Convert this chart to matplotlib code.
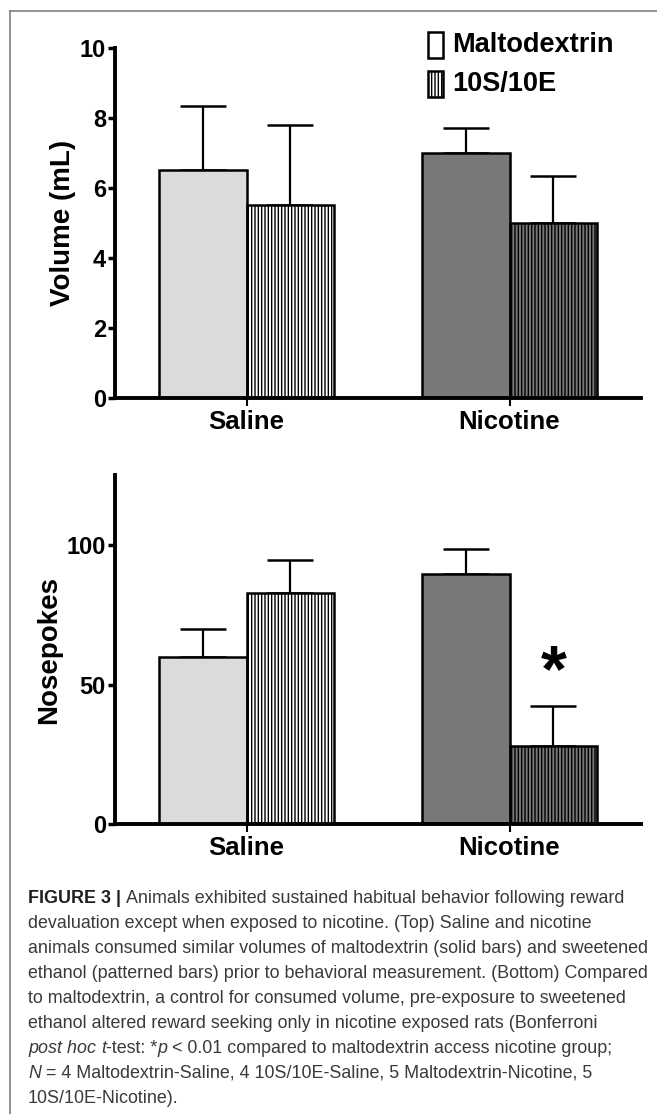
import matplotlib
matplotlib.use("Agg")
import matplotlib.pyplot as plt
from matplotlib import font_manager
from matplotlib.patches import Rectangle
from matplotlib.lines import Line2D

# data
groups = ["Saline", "Nicotine"]
series = ["Maltodextrin", "10S/10E"]
volume_malto = [6.5, 7.0]
volume_malto_err = [1.83, 0.70]
volume_10s = [5.5, 5.0]
volume_10s_err = [2.30, 1.34]
pokes_malto = [60.0, 89.6]
pokes_malto_err = [9.8, 9.0]
pokes_10s = [82.7, 28.1]
pokes_10s_err = [11.9, 14.2]
vol_ticks = [0, 2, 4, 6, 8, 10]
poke_ticks = [0, 50, 100]

W, H = 657, 1114


def has_font(name):
    try:
        font_manager.findfont(name, fallback_to_default=False)
        return True
    except Exception:
        return False


narrow = "Liberation Sans Narrow" if has_font("Liberation Sans Narrow") else "Liberation Sans"
plt.rcParams["font.family"] = ["Liberation Sans", "DejaVu Sans"]
plt.rcParams["hatch.color"] = "black"
plt.rcParams["hatch.linewidth"] = 1.0

fig = plt.figure(figsize=(W / 100, H / 100), dpi=100)


def fx(x):
    return x / W


def fy(y):
    return 1 - y / H


light = "#d9dbdd"
dark = "#76787a"
bw = 1 / 3


def panel(top_px, bot_px, malto, malto_err, s10, s10_err, ylim, ticks, ylabel):
    ax = fig.add_axes([fx(115), fy(bot_px), fx(641) - fx(115), fy(top_px) - fy(bot_px)])
    xs = range(len(groups))
    ekw = dict(elinewidth=1.6, capthick=1.8, ecolor="black", zorder=1)
    ax.bar([x - bw / 2 for x in xs], malto, bw, color=[light, dark], edgecolor="black",
           linewidth=1.8, yerr=[[0] * len(malto), malto_err], capsize=16.5, error_kw=ekw, zorder=2)
    ax.bar([x + bw / 2 for x in xs], s10, bw, color=["white", dark], edgecolor="black",
           linewidth=1.8, hatch="|||||", yerr=[[0] * len(s10), s10_err], capsize=16.5,
           error_kw=ekw, zorder=2)
    ax.set_xlim(-0.5, 1.5)
    ax.set_ylim(*ylim)
    ax.set_yticks(ticks)
    ax.set_xticks(list(xs))
    ax.set_xticklabels(groups, fontsize=18.5, fontweight="bold")
    ax.set_yticklabels([str(t) for t in ticks], fontsize=17, fontweight="bold")
    ax.tick_params(axis="y", length=5, width=2.5, pad=1.5)
    ax.tick_params(axis="x", length=6, width=1.5, pad=2.5)
    ax.set_ylabel(ylabel, fontsize=20, fontweight="bold", labelpad=3)
    for s in ["top", "right"]:
        ax.spines[s].set_visible(False)
    for s in ["left", "bottom"]:
        ax.spines[s].set_linewidth(2.8)
    ax.set_facecolor("none")
    return ax


ax1 = panel(48, 397.7, volume_malto, volume_malto_err, volume_10s, volume_10s_err,
            (0, 10), vol_ticks, "Volume (mL)")
ax2 = panel(475, 824.3, pokes_malto, pokes_malto_err, pokes_10s, pokes_10s_err,
            (0, 125), poke_ticks, "Nosepokes")
ax2.text(1 + bw / 2, 47.5, "*", fontsize=48, fontweight="bold", ha="center", va="baseline")

# legend drawn by hand at top right
for i, (name, face, hatch) in enumerate(zip(series, ["white", "white"], [None, "|||||"])):
    y0 = 32 + i * 39
    fig.add_artist(Rectangle((fx(428), fy(y0 + 26)), fx(15), 26 / H, facecolor=face,
                             edgecolor="black", linewidth=1.8, hatch=hatch,
                             transform=fig.transFigure))
    fig.text(fx(452), fy(y0 + 13), name, fontsize=19.5, fontweight="bold",
             ha="left", va="center")

# frame lines
fig.add_artist(Line2D([fx(10), 1], [fy(11), fy(11)], color="#808080", lw=1.2,
                      transform=fig.transFigure))
fig.add_artist(Line2D([fx(10), fx(10)], [fy(11), 0], color="#808080", lw=1.2,
                      transform=fig.transFigure))

# caption
cap_color = "#3a3a3a"
caption = [
    [("FIGURE 3 | ", "bold"), ("Animals exhibited sustained habitual behavior following reward", "")],
    [("devaluation except when exposed to nicotine. (Top) Saline and nicotine", "")],
    [("animals consumed similar volumes of maltodextrin (solid bars) and sweetened", "")],
    [("ethanol (patterned bars) prior to behavioral measurement. (Bottom) Compared", "")],
    [("to maltodextrin, a control for consumed volume, pre-exposure to sweetened", "")],
    [("ethanol altered reward seeking only in nicotine exposed rats (Bonferroni", "")],
    [("post hoc", "it"), (" ", ""), ("t", "it"), ("-test: *", ""), ("p", "it"),
     (" < 0.01 compared to maltodextrin access nicotine group;", "")],
    [("N", "it"), (" = 4 Maltodextrin-Saline, 4 10S/10E-Saline, 5 Maltodextrin-Nicotine, 5", "")],
    [("10S/10E-Nicotine).", "")],
]

renderer = fig.canvas.get_renderer()
# pick a size so the widest line spans the measured width
probe = fig.text(0, 0, caption[2][0][0], fontsize=10, family=narrow)
w10 = probe.get_window_extent(renderer).width
probe.remove()
cap_size = 10 * 620 / w10

for i, line in enumerate(caption):
    x = 28
    yb = 903 + i * 25
    for txt, style in line:
        t = fig.text(fx(x), fy(yb), txt, fontsize=cap_size, family=narrow, va="baseline",
                     color="#1e1e1e" if style == "bold" else cap_color,
                     fontweight="bold" if style == "bold" else "normal",
                     fontstyle="italic" if style == "it" else "normal")
        x += t.get_window_extent(renderer).width

fig.savefig("out.png", dpi=100)
